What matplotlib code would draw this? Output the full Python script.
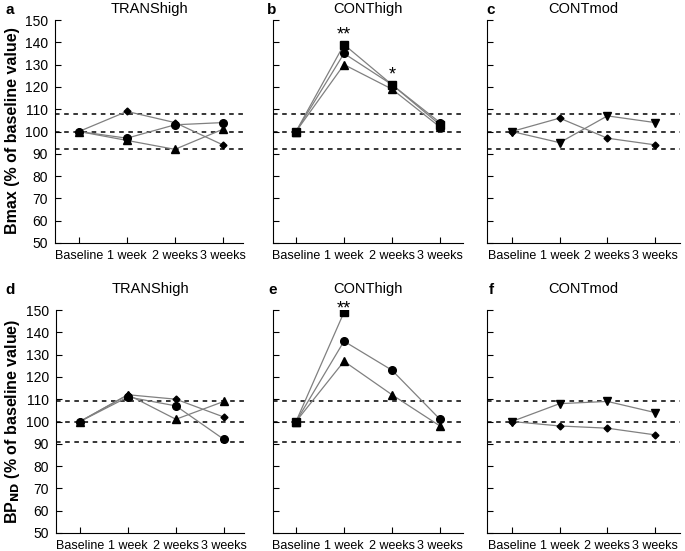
import numpy as np
import matplotlib
import matplotlib.pyplot as plt

matplotlib.rcParams.update({"font.family": ["Liberation Sans", "DejaVu Sans"], "font.size": 10})

nan = np.nan
timepoints = ["Baseline", "1 week", "2 weeks", "3 weeks"]

# Bmax (% of baseline), top row
a_circle = [100, 97, 103, 104]
a_diamond = [100, 109, 104, 94]
a_triangle = [100, 96, 92, 101]

b_square = [100, 139, 121, 103]
b_circle = [100, 135, 121, 104]
b_triangle = [100, 130, 119, 102]

c_diamond = [100, 106, 97, 94]
c_tridown = [100, 95, 107, 104]

# BPND (% of baseline), bottom row
d_circle = [100, 111, 107, 92]
d_diamond = [100, 112, 110, 102]
d_triangle = [100, 112, 101, 109]

e_square = [100, 149, nan, nan]
e_circle = [100, 136, 123, 101]
e_triangle = [100, 127, 112, 98]

f_tridown = [100, 108, 109, 104]
f_diamond = [100, 98, 97, 94]

top_refs = [108, 100, 92]
bottom_refs = [109, 100, 91]

panels = [
    ("a", "TRANShigh", [(a_circle, "o"), (a_diamond, "D"), (a_triangle, "^")], top_refs, []),
    ("b", "CONThigh", [(b_square, "s"), (b_circle, "o"), (b_triangle, "^")], top_refs,
     [(1, 143.5, "**"), (2, 125.5, "*")]),
    ("c", "CONTmod", [(c_diamond, "D"), (c_tridown, "v")], top_refs, []),
    ("d", "TRANShigh", [(d_circle, "o"), (d_diamond, "D"), (d_triangle, "^")], bottom_refs, []),
    ("e", "CONThigh", [(e_square, "s"), (e_circle, "o"), (e_triangle, "^")], bottom_refs,
     [(1, 150.6, "**")]),
    ("f", "CONTmod", [(f_tridown, "v"), (f_diamond, "D")], bottom_refs, []),
]

W, H = 685, 551
fig = plt.figure(figsize=(W / 100, H / 100), dpi=100)

# axes boxes in pixels: left, right, top, bottom
boxes = [
    (55, 243, 20, 243), (273, 463, 20, 243), (487, 680, 20, 243),
    (56, 244, 310, 533), (273, 463, 310, 533), (487, 680, 310, 533),
]
xlims = [(-0.5, 3.42), (-0.48, 3.48), (-0.52, 3.52)] * 2
letter_x = [5, 267, 486, 5, 268, 489]
header_y = [10, 10, 10, 290, 290, 290]
msizes = {"o": 5.5, "s": 5.5, "^": 5.5, "v": 5.5, "D": 3.5}

for i, (letter, title, series, refs, stars) in enumerate(panels):
    l, r, t, b = boxes[i]
    ax = fig.add_axes([l / W, 1 - b / H, (r - l) / W, (b - t) / H])
    x = np.arange(len(timepoints))
    for ref in refs:
        ax.axhline(ref, color="black", lw=1.1, ls=(0, (3, 3)), zorder=1)
    for vals, m in series:
        ax.plot(x, vals, color="#808080", lw=0.9, zorder=2)
        ax.plot(x, vals, ls="none", marker=m, ms=msizes[m], color="black", zorder=3)
    for sx, sy, s in stars:
        ax.text(sx, sy, s, ha="center", va="center", fontsize=13, clip_on=False)
    ax.set_xlim(*xlims[i])
    ax.set_ylim(50, 150)
    ax.set_yticks(range(50, 151, 10))
    ax.set_xticks(x, timepoints)
    ax.tick_params(direction="in", length=4, width=0.8)
    ax.tick_params(axis="x", labelsize=9, pad=5)
    ax.tick_params(axis="y", labelsize=10, pad=5)
    if i % 3 != 0:
        ax.set_yticklabels([])
    ax.spines["top"].set_visible(False)
    ax.spines["right"].set_visible(False)
    fig.text(((l + r) / 2) / W, 1 - (header_y[i] - 1) / H, title, ha="center", va="center",
             fontsize=10.5)
    fig.text(letter_x[i] / W, 1 - header_y[i] / H, letter, ha="left", va="center", fontsize=11,
             fontweight="bold")

fig.text(13 / W, 1 - 131 / H, "Bmax (% of baseline value)", rotation=90, ha="center", va="center",
         fontsize=11.5, fontweight="bold")
fig.text(13 / W, 1 - 421 / H, r"BP$_{\mathbf{ND}}$ (% of baseline value)", rotation=90, ha="center",
         va="center", fontsize=11.5, fontweight="bold")

fig.savefig("out.png", dpi=100)
